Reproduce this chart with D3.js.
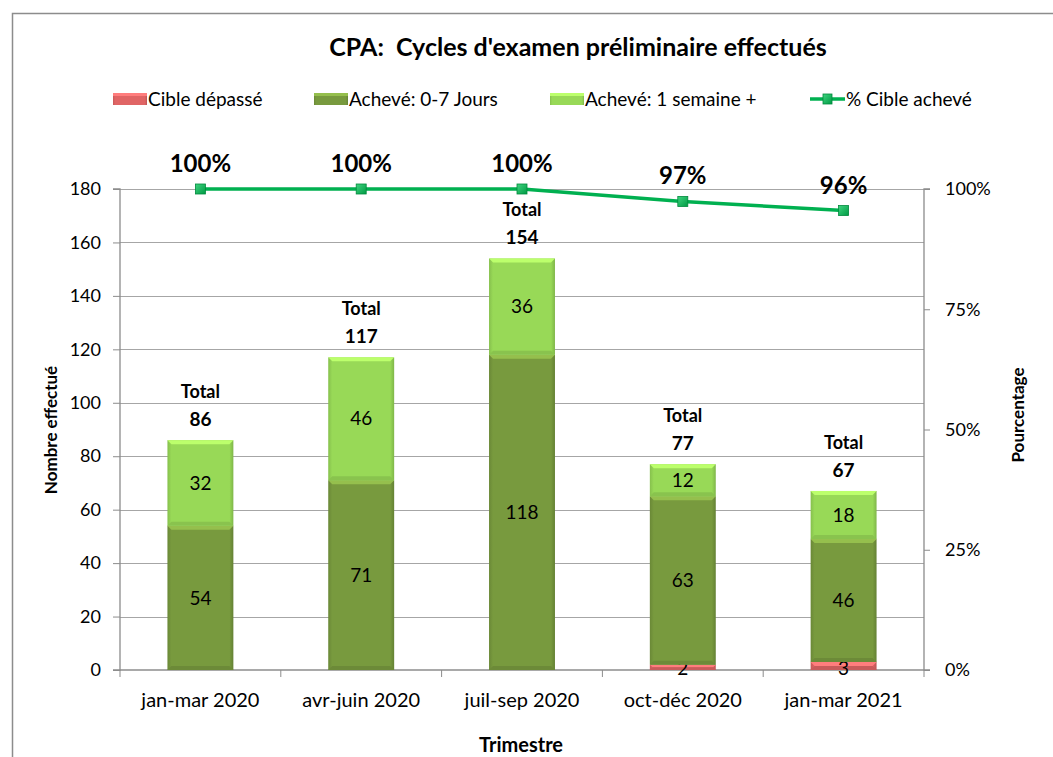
<!DOCTYPE html>
<html>
<head>
<meta charset="utf-8">
<script src="https://cdn.jsdelivr.net/npm/d3@7"></script>
<style>
  body { margin: 0; background: #fff; }
  svg { display: block; font-family: Lato, "Open Sans", sans-serif; }
</style>
</head>
<body>
<svg id="chart"></svg>
<script>
// Chart data
const categories = ["jan-mar 2020", "avr-juin 2020", "juil-sep 2020", "oct-déc 2020", "jan-mar 2021"];
const cibleDepasse = [0, 0, 0, 2, 3];
const acheve07 = [54, 71, 118, 63, 46];
const acheveSemaine = [32, 46, 36, 12, 18];
const leftTicks = [0, 20, 40, 60, 80, 100, 120, 140, 160, 180];
const rightTicks = [0, 0.25, 0.5, 0.75, 1];

const seriesNames = ["Cible dépassé", "Achevé: 0-7 Jours", "Achevé: 1 semaine +"];
const seriesColors = ["#e06565", "#789a3e", "#98d957"];
const lineName = "% Cible achevé";
const lineColor = "#00b050";

const width = 1053, height = 757;
const margin = { top: 189, right: 129, bottom: 87, left: 120 };
const innerW = width - margin.left - margin.right;

const svg = d3.select("#chart").attr("width", width).attr("height", height);

// Totals and percentage achieved
const rows = categories.map((c, i) => ({
  cat: c,
  vals: [cibleDepasse[i], acheve07[i], acheveSemaine[i]],
  total: cibleDepasse[i] + acheve07[i] + acheveSemaine[i]
}));
rows.forEach(r => { r.pct = (r.total - r.vals[0]) / r.total; });

const x = d3.scaleBand().domain(categories).range([margin.left, margin.left + innerW]).padding(0);
const y = d3.scaleLinear().domain([0, 180]).range([height - margin.bottom, margin.top]);
const yR = d3.scaleLinear().domain([0, 1]).range([height - margin.bottom, margin.top]);
const barW = x.bandwidth() * 0.41;

// Outer frame (partial, as cropped in the original)
svg.append("path")
  .attr("d", `M12.5,${height} V13.5 H${width}`)
  .attr("fill", "none").attr("stroke", "#8c8c8c").attr("stroke-width", 1.5);

// Gradients
const defs = svg.append("defs");
seriesColors.forEach((col, i) => {
  const g = defs.append("linearGradient").attr("id", "grad" + i)
    .attr("x1", "0").attr("x2", "1").attr("y1", "0").attr("y2", "0");
  const c = d3.color(col);
  g.append("stop").attr("offset", "0").attr("stop-color", c.darker(0.35));
  g.append("stop").attr("offset", "0.06").attr("stop-color", c);
  g.append("stop").attr("offset", "0.94").attr("stop-color", c);
  g.append("stop").attr("offset", "1").attr("stop-color", c.darker(0.5));
});
const mg = defs.append("linearGradient").attr("id", "markerGrad")
  .attr("x1", "0").attr("x2", "1").attr("y1", "0").attr("y2", "1");
mg.append("stop").attr("offset", "0").attr("stop-color", "#3fd47f");
mg.append("stop").attr("offset", "1").attr("stop-color", "#009a44");

// Grid lines
svg.append("g").selectAll("line").data(leftTicks.slice(1)).join("line")
  .attr("x1", margin.left).attr("x2", margin.left + innerW)
  .attr("y1", d => Math.round(y(d)) + 0.5).attr("y2", d => Math.round(y(d)) + 0.5)
  .attr("stroke", "#a6a6a6").attr("stroke-width", 1);

// Axes
const axisColor = "#8c8c8c";
const gL = svg.append("g").attr("transform", `translate(${margin.left},0)`)
  .call(d3.axisLeft(y).tickValues(leftTicks).tickSize(7).tickPadding(12));
const gR = svg.append("g").attr("transform", `translate(${margin.left + innerW},0)`)
  .call(d3.axisRight(yR).tickValues(rightTicks).tickSize(6).tickPadding(15).tickFormat(d3.format(".0%")));
const gX = svg.append("g").attr("transform", `translate(0,${height - margin.bottom})`)
  .call(d3.axisBottom(x).tickSize(0).tickPadding(23));
// category boundary ticks
const bounds = categories.map(c => x(c)).concat([margin.left + innerW]);
gX.selectAll(".bound").data(bounds).join("line").attr("class", "bound")
  .attr("x1", d => d).attr("x2", d => d).attr("y1", 0).attr("y2", 7)
  .attr("stroke", axisColor);
[gL, gR, gX].forEach(g => {
  g.select(".domain").attr("stroke", axisColor).attr("stroke-width", 1.3);
  g.selectAll(".tick line").attr("stroke", axisColor);
  g.selectAll("text").attr("font-size", 18).attr("fill", "#000")
    .attr("font-family", "Lato, sans-serif");
});
gX.selectAll("text").attr("font-size", 20);
gR.select(".domain").attr("d", `M6,${y(0)}H0V${y(180)}H6`);
gL.select(".domain").attr("d", `M-7,${y(0)}H0V${y(180)}H-7`);
gX.select(".domain").attr("d", `M${margin.left},0H${margin.left + innerW}`);

// Stacked bars
const stack = d3.stack().keys([0, 1, 2]).value((d, k) => d.vals[k]);
const stacked = stack(rows);
const bevel = 4;
stacked.forEach((layer, k) => {
  const g = svg.append("g");
  layer.forEach((seg, i) => {
    const v = seg[1] - seg[0];
    if (v <= 0) return;
    const x0 = x(rows[i].cat) + (x.bandwidth() - barW) / 2;
    const yt = y(seg[1]), yb = y(seg[0]);
    const h = yb - yt;
    g.append("rect").attr("x", x0).attr("y", yt).attr("width", barW).attr("height", h)
      .attr("fill", `url(#grad${k})`);
    const bh = Math.min(bevel, h / 2);
    // top highlight bevel
    g.append("path")
      .attr("d", `M${x0},${yt}H${x0 + barW}L${x0 + barW - bh},${yt + bh}H${x0 + bh}Z`)
      .attr("fill", d3.color(seriesColors[k]).brighter(0.6));
    // bottom shade bevel
    g.append("path")
      .attr("d", `M${x0},${yb}H${x0 + barW}L${x0 + barW - bh},${yb - bh}H${x0 + bh}Z`)
      .attr("fill", d3.color(seriesColors[k]).darker(0.3));
    g.append("text")
      .attr("x", x0 + barW / 2)
      .attr("y", k === 0 ? yb - 1 : (yt + yb) / 2)
      .attr("dy", k === 0 ? "0.3em" : "0.35em")
      .attr("text-anchor", "middle").attr("font-size", 19)
      .text(v);
  });
});

// Total labels
const totals = svg.append("g").attr("font-weight", "bold").attr("text-anchor", "middle").attr("font-size", 18);
rows.forEach(r => {
  const cx = x(r.cat) + x.bandwidth() / 2;
  const yt = y(r.total);
  totals.append("text").attr("x", cx).attr("y", yt - 42).text("Total");
  totals.append("text").attr("x", cx).attr("y", yt - 14).attr("font-size", 19).text(r.total);
});

// Percentage line
const line = d3.line().x(d => x(d.cat) + x.bandwidth() / 2).y(d => yR(d.pct));
svg.append("path").datum(rows).attr("d", line)
  .attr("fill", "none").attr("stroke", lineColor).attr("stroke-width", 3.5);
svg.append("g").selectAll("rect").data(rows).join("rect")
  .attr("x", d => x(d.cat) + x.bandwidth() / 2 - 5)
  .attr("y", d => yR(d.pct) - 5)
  .attr("width", 10).attr("height", 10)
  .attr("fill", "url(#markerGrad)").attr("stroke", "#00893c").attr("stroke-width", 0.8);
svg.append("g").selectAll("text").data(rows).join("text")
  .attr("x", d => x(d.cat) + x.bandwidth() / 2)
  .attr("y", d => yR(d.pct) - 17)
  .attr("text-anchor", "middle").attr("font-weight", "bold").attr("font-size", 24)
  .text(d => d3.format(".0%")(d.pct));

// Title
svg.append("text").attr("x", 578).attr("y", 56).attr("text-anchor", "middle")
  .attr("font-weight", "bold").attr("font-size", 25).style("white-space", "pre")
  .text("CPA:  Cycles d'examen préliminaire effectués");

// Legend
const legend = svg.append("g").attr("font-size", 19);
const legendX = [113, 314, 550];
seriesNames.forEach((name, k) => {
  const lx = legendX[k];
  legend.append("rect").attr("x", lx).attr("y", 93).attr("width", 34).attr("height", 12)
    .attr("fill", `url(#grad${k})`);
  legend.append("rect").attr("x", lx).attr("y", 93).attr("width", 34).attr("height", 3)
    .attr("fill", d3.color(seriesColors[k]).brighter(0.6));
  legend.append("text").attr("x", lx + 35).attr("y", 106).text(name);
});
legend.append("line").attr("x1", 810).attr("x2", 845).attr("y1", 99).attr("y2", 99)
  .attr("stroke", lineColor).attr("stroke-width", 3.5);
legend.append("rect").attr("x", 823).attr("y", 94).attr("width", 9).attr("height", 10)
  .attr("fill", "url(#markerGrad)").attr("stroke", "#00893c").attr("stroke-width", 0.8);
legend.append("text").attr("x", 846).attr("y", 106).text(lineName);

// Axis titles
svg.append("text").attr("transform", `translate(57,430) rotate(-90)`)
  .attr("text-anchor", "middle").attr("font-weight", "bold").attr("font-size", 17)
  .text("Nombre effectué");
svg.append("text").attr("transform", `translate(1024,415) rotate(-90)`)
  .attr("text-anchor", "middle").attr("font-weight", "bold").attr("font-size", 17)
  .text("Pourcentage");
svg.append("text").attr("x", 521).attr("y", 752).attr("text-anchor", "middle")
  .attr("font-weight", "bold").attr("font-size", 20)
  .text("Trimestre");
</script>
</body>
</html>
